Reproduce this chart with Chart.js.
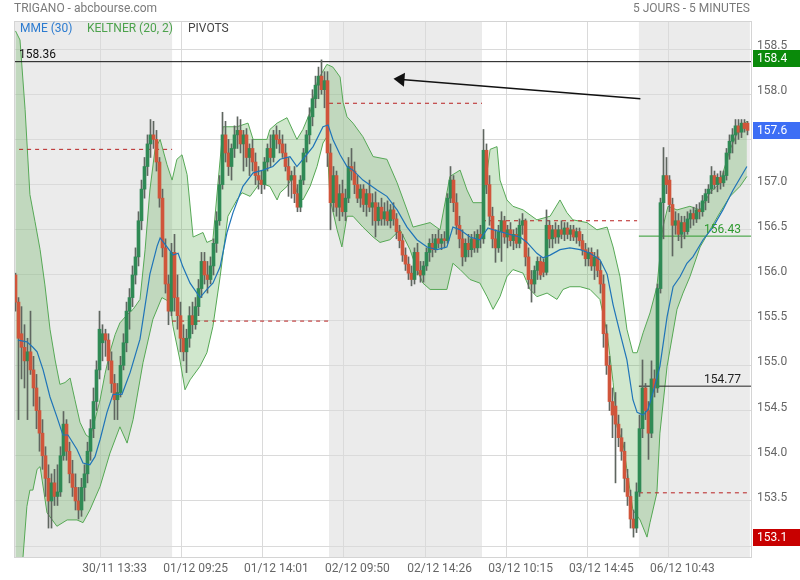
<!DOCTYPE html>
<html lang="fr">
<head>
<meta charset="UTF-8">
<title>TRIGANO - abcbourse.com</title>
<script src="https://cdn.jsdelivr.net/npm/chart.js"></script>
<style>
  body { margin: 0; background: #fff; font-family: Roboto, "Open Sans", sans-serif; }
  .wrap { position: relative; width: 800px; height: 580px; }
  canvas { position: absolute; left: 0; top: 0; }
  .txt { position: absolute; white-space: nowrap; line-height: 16px; }
  .title { left: 14px; top: 0; font-size: 12px; color: #7a7a7a; }
  .period { right: 50px; top: 0; font-size: 12px; color: #7a7a7a; }
  .leg { top: 20px; font-size: 12px; }
</style>
</head>
<body>
<div class="wrap">
  <canvas id="chart" width="800" height="580"></canvas>
  <div class="txt title">TRIGANO - abcbourse.com</div>
  <div class="txt period">5 JOURS - 5 MINUTES</div>
  <div class="txt leg" style="left:20px;color:#2b7bd0">MME (30)</div>
  <div class="txt leg" style="left:87px;color:#4ca24c">KELTNER (20, 2)</div>
  <div class="txt leg" style="left:188px;color:#444">PIVOTS</div>
</div>

<script>
  // bougies (une par pas de l'axe x)
  const opens = [
    156.00,155.70,155.35,155.20,155.05,155.15,154.95,154.75,154.50,154.25,154.00,153.75,153.50,
    153.70,153.55,153.60,154.00,154.35,154.05,153.80,153.65,153.50,153.40,153.65,153.80,154.05,
    154.30,154.60,154.95,155.25,155.35,155.28,155.05,154.80,154.62,154.70,155.00,155.25,155.60,
    155.75,156.00,156.20,156.60,156.95,157.20,157.45,157.55,157.50,157.25,156.85,156.30,155.90,
    155.60,156.25,155.75,155.55,155.30,155.15,155.30,155.55,155.45,155.65,155.85,156.15,156.00,
    155.95,156.10,156.35,156.60,157.00,157.55,157.35,157.20,157.40,157.55,157.60,157.45,157.55,
    157.30,157.40,157.25,157.10,157.05,157.00,157.25,157.40,157.30,157.55,157.50,157.45,157.35,
    157.20,157.05,157.10,156.90,156.75,157.05,157.35,157.55,157.75,157.95,158.10,158.20,158.05,
    158.15,157.35,156.80,157.10,156.75,156.90,156.70,156.85,157.20,157.15,157.00,156.85,156.95,
    156.78,156.90,156.75,156.80,156.60,156.75,156.62,156.70,156.60,156.72,156.62,156.48,156.38,
    156.22,156.12,156.02,155.95,156.25,156.05,156.00,156.10,156.25,156.35,156.28,156.40,156.35,
    156.40,156.38,156.85,157.05,156.80,156.55,156.40,156.20,156.35,156.28,156.40,156.30,156.45,
    156.40,157.38,157.00,156.65,156.40,156.30,156.48,156.60,156.42,156.50,156.38,156.45,156.35,
    156.55,156.60,156.20,155.95,155.90,156.05,156.15,156.14,156.03,156.55,156.40,156.50,156.42,
    156.50,156.45,156.52,156.45,156.50,156.42,156.48,156.38,156.28,156.18,156.25,156.10,156.20,
    156.05,155.90,155.35,155.00,154.60,154.55,154.35,154.20,154.05,153.75,153.55,153.30,153.20,
    153.60,154.30,154.75,154.50,154.25,154.85,154.75,155.85,156.80,157.10,157.05,156.78,156.55,
    156.60,156.45,156.58,156.48,156.62,156.68,156.62,156.72,156.70,156.82,156.90,156.95,157.10,
    157.00,157.08,157.02,157.10,157.35,157.48,157.55,157.65,157.58,157.68,157.68
  ];
  const highs = [
    156.02,155.75,155.65,155.45,155.30,155.60,155.10,154.90,154.65,154.40,154.10,153.90,153.80,
    153.85,153.90,154.10,154.49,154.40,154.15,153.95,153.80,153.65,153.75,153.90,154.15,154.40,
    154.75,155.05,155.60,155.45,155.40,155.35,155.15,154.90,154.80,155.10,155.35,155.70,155.85,
    156.10,156.30,156.70,157.05,157.30,157.55,157.72,157.70,157.60,157.30,156.95,156.40,156.00,
    156.35,156.45,156.00,155.70,155.45,155.40,155.65,155.70,155.75,155.95,156.25,156.25,156.15,
    156.20,156.40,156.70,157.10,157.80,157.70,157.50,157.45,157.65,157.75,157.72,157.60,157.62,
    157.45,157.50,157.35,157.20,157.15,157.30,157.45,157.55,157.60,157.65,157.60,157.55,157.45,
    157.30,157.15,157.20,157.00,157.10,157.40,157.60,157.85,158.05,158.20,158.30,158.38,158.25,
    158.25,157.45,157.20,157.15,157.00,157.05,156.95,157.30,157.40,157.25,157.10,157.00,157.00,
    156.95,157.05,156.90,156.92,156.80,156.85,156.80,156.82,156.78,156.80,156.68,156.55,156.45,
    156.30,156.20,156.10,156.30,156.35,156.15,156.15,156.30,156.40,156.45,156.45,156.50,156.45,
    156.48,156.90,157.20,157.10,156.90,156.65,156.50,156.40,156.45,156.45,156.48,156.50,156.55,
    157.61,157.45,157.10,156.75,156.50,156.55,156.70,156.65,156.55,156.58,156.50,156.52,156.62,
    156.68,156.62,156.30,156.05,156.10,156.20,156.20,156.18,156.72,156.60,156.55,156.58,156.55,
    156.60,156.58,156.58,156.55,156.55,156.52,156.52,156.45,156.35,156.30,156.30,156.25,156.28,
    156.15,156.00,155.45,155.10,154.75,154.70,154.45,154.30,154.15,153.85,153.62,153.40,153.70,
    154.45,155.06,154.80,154.60,155.05,154.95,155.90,156.85,157.41,157.30,157.10,156.85,156.70,
    156.68,156.65,156.65,156.70,156.72,156.75,156.78,156.80,156.88,156.95,157.00,157.20,157.15,
    157.12,157.15,157.15,157.40,157.55,157.62,157.72,157.72,157.72,157.72,157.70
  ];
  const lows = [
    155.60,154.40,154.85,154.75,154.40,154.90,154.55,154.30,154.05,153.85,153.55,153.20,153.20,
    153.45,153.45,153.55,153.95,153.95,153.70,153.55,153.40,153.30,153.33,153.50,153.70,153.95,
    154.20,154.50,154.85,155.05,155.10,154.95,154.70,154.40,154.40,154.65,154.95,155.15,155.40,
    155.65,155.90,156.10,156.50,156.85,157.10,157.30,157.40,157.15,156.75,156.20,155.80,155.45,
    155.55,155.60,155.40,155.15,155.05,154.92,155.20,155.35,155.40,155.55,155.75,155.90,155.80,
    155.90,156.00,156.25,156.55,156.95,157.25,157.10,157.05,157.30,157.40,157.35,157.15,157.20,
    157.10,157.15,157.00,156.95,156.90,156.95,157.15,157.20,157.25,157.40,157.35,157.30,157.15,
    156.87,156.85,156.80,156.70,156.70,157.00,157.25,157.45,157.65,157.85,157.95,158.00,157.85,
    157.20,156.50,156.70,156.65,156.60,156.65,156.60,156.80,157.05,156.90,156.80,156.75,156.70,
    156.65,156.70,156.55,156.42,156.55,156.55,156.55,156.55,156.52,156.55,156.40,156.30,156.15,
    156.05,155.95,155.88,155.90,156.00,155.92,155.92,156.05,156.15,156.20,156.25,156.30,156.28,
    156.30,156.35,156.80,156.70,156.45,156.30,156.10,156.15,156.20,156.20,156.25,156.25,156.30,
    156.35,156.90,156.55,156.30,156.14,156.25,156.15,156.35,156.30,156.32,156.28,156.30,156.30,
    156.45,156.10,155.85,155.70,155.80,155.95,155.95,155.98,156.00,156.30,156.30,156.35,156.35,
    156.40,156.38,156.40,156.38,156.38,156.35,156.32,156.22,156.10,156.10,156.05,155.95,155.98,
    155.80,155.20,154.90,154.50,154.20,153.70,154.10,153.95,153.60,153.45,153.20,153.10,153.15,
    153.55,154.20,154.40,153.96,154.20,154.65,154.70,155.80,156.40,156.90,156.70,156.21,156.45,
    156.38,156.30,156.40,156.45,156.52,156.55,156.58,156.62,156.65,156.72,156.80,156.90,156.95,
    156.92,156.95,156.98,157.05,157.28,157.35,157.45,157.50,157.52,157.58,157.55
  ];
  const closes = [
    155.70,155.30,155.20,155.05,155.15,154.95,154.75,154.50,154.25,154.00,153.75,153.50,153.70,
    153.55,153.60,154.00,154.35,154.05,153.80,153.65,153.50,153.40,153.65,153.80,154.05,154.30,
    154.60,154.95,155.40,155.35,155.28,155.05,154.80,154.62,154.70,155.00,155.25,155.60,155.75,
    156.00,156.20,156.60,156.95,157.20,157.45,157.55,157.50,157.25,156.85,156.30,155.90,155.60,
    156.25,155.75,155.55,155.30,155.15,155.30,155.55,155.45,155.65,155.85,156.15,156.00,155.95,
    156.10,156.35,156.60,157.00,157.55,157.35,157.20,157.40,157.55,157.60,157.45,157.55,157.30,
    157.40,157.25,157.10,157.05,157.00,157.25,157.40,157.30,157.55,157.50,157.45,157.35,157.20,
    157.05,157.10,156.90,156.75,157.05,157.35,157.55,157.75,157.95,158.10,158.20,158.05,158.15,
    157.35,156.80,157.10,156.75,156.90,156.70,156.85,157.20,157.15,157.00,156.85,156.95,156.78,
    156.90,156.75,156.80,156.60,156.75,156.62,156.70,156.60,156.72,156.62,156.48,156.38,156.22,
    156.12,156.02,155.95,156.25,156.05,156.00,156.10,156.25,156.35,156.28,156.40,156.35,156.40,
    156.38,156.85,157.05,156.80,156.55,156.40,156.20,156.35,156.28,156.40,156.30,156.45,156.40,
    157.38,157.00,156.65,156.40,156.30,156.48,156.60,156.42,156.50,156.38,156.45,156.35,156.55,
    156.60,156.20,155.95,155.90,156.05,156.15,156.00,156.03,156.55,156.40,156.50,156.42,156.50,
    156.45,156.52,156.45,156.50,156.42,156.48,156.38,156.28,156.18,156.25,156.10,156.20,156.05,
    155.90,155.35,155.00,154.60,154.45,154.35,154.20,154.05,153.75,153.55,153.30,153.20,153.60,
    154.30,154.75,154.50,154.25,154.85,154.75,155.85,156.80,157.10,157.00,156.78,156.55,156.60,
    156.45,156.58,156.48,156.62,156.68,156.62,156.72,156.70,156.82,156.90,156.95,157.10,157.00,
    157.08,157.02,157.10,157.35,157.48,157.55,157.65,157.58,157.68,157.62,157.60
  ];

  // Keltner (20, 2) : bandes haute et basse (position en bougies)
  const upperIdx = [0,1.5,3.2,4.8,6.5,8.2,9.8,11.5,13.2,14.8,16.5,18.2,19.8,21.5,23.5,24.8,26.5,28.2,29.8,31.5,
    33.2,34.8,37.2,39.2,41.5,43.2,44.8,46.5,48.2,50.5,52.2,53.8,55.5,57.2,59.2,62.5,63.8,65.8,69.2,73.8,
    77.5,79.2,83.8,84.8,87.2,90.5,93.8,95.8,98.2,100.8,103.8,105.8,108.2,109.2,110.5,112.5,115.8,119.2,123.8,127.2,
    130.5,132.5,138.2,141.5,144.8,148.2,150.5,152.5,155.8,158.2,160.5,161.5,163.8,165.8,169.2,173.8,178.2,181.5,183.8,185.8,
    190.5,193.8,197.2,199.2,201.5,203.8,205.8,207.2,209.2,211.5,213.8,215.8,217.5,220.5,224.8,228.2,231.5,234.8,238.2,241.5,243.8];
  const upperVal = [158.70,158.60,157.83,156.89,156.59,156.28,155.89,155.40,155.06,154.79,154.81,154.86,154.62,154.37,154.23,154.20,154.40,154.62,154.90,155.15,
    155.34,155.47,155.56,155.62,155.73,156.28,156.94,157.39,157.50,157.22,157.05,157.28,157.33,157.11,156.42,156.47,156.36,156.39,157.64,157.64,
    157.68,157.50,157.50,157.61,157.68,157.74,157.50,157.61,157.80,158.16,158.33,158.30,158.19,157.91,157.75,157.68,157.53,157.31,157.28,157.02,
    156.72,156.53,156.58,156.50,157.09,157.16,156.94,156.80,156.80,157.39,157.42,157.05,156.83,156.76,156.72,156.61,156.65,156.83,156.69,156.61,
    156.58,156.50,156.53,156.31,155.98,155.40,155.14,155.14,155.36,155.58,155.87,156.53,156.76,156.72,156.76,156.72,156.91,157.02,157.39,157.64,157.70];
  const lowerIdx = [0,1.8,2.5,3.8,4.8,5.8,7.2,8.2,10.5,13.8,17.2,20.5,22.5,24.8,28.2,31.5,34.8,37.2,39.2,42.5,
    45.8,48.8,51.5,52.5,54.8,56.5,58.2,61.5,63.8,65.8,68.2,70.8,73.8,75.5,78.2,81.5,84.8,87.2,88.2,90.5,
    92.5,93.8,95.8,98.2,100.5,102.5,103.8,104.8,107.2,108.8,110.5,112.5,115.8,119.2,121.5,124.8,128.2,131.5,133.8,135.8,
    138.2,143.8,145.8,148.2,151.5,154.8,157.2,159.2,161.5,163.8,165.8,169.2,171.5,173.8,177.2,180.5,182.5,184.8,188.2,191.5,
    194.8,197.2,199.2,200.5,202.5,205.8,208.2,210.5,211.5,213.8,214.8,217.2,220.5,222.5,224.8,228.2,231.5,234.8,238.2,241.5,243.8];
  const lowerVal = [152.30,152.50,152.88,153.44,153.62,153.62,153.85,153.88,153.37,153.22,153.29,153.29,153.26,153.40,153.66,154.03,154.32,154.14,154.40,155.03,
    155.51,155.75,155.70,155.43,155.06,154.73,154.84,154.99,155.14,155.43,155.98,156.65,156.83,156.91,156.87,157.02,156.98,156.83,156.91,156.98,
    157.09,156.91,156.83,156.98,157.20,157.46,157.53,156.85,156.50,156.31,156.65,156.65,156.53,156.42,156.36,156.39,156.50,156.28,156.06,155.91,
    155.84,155.84,156.13,156.06,155.95,155.91,155.76,155.62,155.76,155.98,156.06,156.02,155.84,155.76,155.80,155.73,155.84,155.87,155.87,155.84,
    155.73,155.36,154.81,154.32,154.14,153.40,153.29,153.10,153.26,153.59,154.25,154.99,155.62,155.80,155.98,156.31,156.50,156.69,156.87,156.98,157.09];

  // MME (30)
  const emaIdx = [0.8,3.8,5.8,7.2,9.2,11.5,13.8,15.8,17.5,20.5,22.5,24.8,26.5,28.2,30.5,32.5,35.5,38.2,41.5,44.8,
    47.2,48.2,50.5,52.5,54.2,55.8,58.2,61.5,63.8,65.8,68.2,70.5,72.5,75.8,79.2,82.5,85.8,88.2,91.5,93.8,
    95.8,99.2,102.5,104.2,105.8,108.2,110.5,112.5,115.8,120.5,123.8,127.2,130.5,133.8,137.2,140.5,143.8,145.8,148.2,151.5,
    154.8,157.5,159.2,161.5,165.8,168.2,170.5,173.8,175.8,178.2,181.5,184.8,188.2,191.5,194.8,197.2,199.2,201.5,203.8,205.8,
    207.2,209.2,210.8,212.5,214.8,217.2,219.2,221.5,223.8,225.8,229.2,232.5,235.8,239.2,243.8];
  const emaVal = [155.28,155.26,155.20,155.15,154.95,154.65,154.43,154.23,154.23,154.07,153.92,153.90,153.99,154.18,154.48,154.68,154.68,154.92,155.29,156.01,
    156.32,156.41,156.31,156.22,156.24,156.09,155.91,155.75,155.84,155.91,156.09,156.47,156.69,156.98,157.13,157.16,157.20,157.28,157.31,157.20,
    157.28,157.42,157.64,157.66,157.50,157.33,157.20,157.16,157.05,156.94,156.87,156.72,156.53,156.39,156.31,156.28,156.31,156.53,156.50,156.42,
    156.39,156.52,156.50,156.48,156.44,156.42,156.36,156.24,156.19,156.22,156.28,156.30,156.28,156.24,156.17,156.01,155.67,155.36,155.06,154.62,
    154.48,154.45,154.51,154.70,154.99,155.54,155.87,155.98,156.13,156.20,156.39,156.53,156.72,156.94,157.20];

  // pivots du jour (début, fin, niveau)
  const pivotFrom = [1.2, 52.2, 104.5, 155.5, 207.8];
  const pivotTo = [52.2, 104.5, 155.5, 207.2, 243.8];
  const pivotVal = [157.39, 155.49, 157.90, 156.60, 153.59];

  // niveaux tracés
  const levelVal = [158.36, 156.43, 154.77];
  const levelFrom = [-0.5, 207.8, 207.8];
  const levelColor = ['#111', '#2e9a2e', '#222'];

  // flèche (bougie, cours)
  const arrowFrom = [208.3, 157.95];
  const arrowTo = [126.0, 158.17];

  // étiquettes de l'axe de droite
  const badgeVal = [158.4, 157.6, 153.1];
  const badgeColor = ['#0a8a0a', '#3d6ef5', '#c80000'];

  // jours : limites (en bougies), un jour sur deux grisé
  const dayBreaks = [-0.5, 52.2, 104.5, 155.5, 207.8, 244.8];

  const xTickPos = [28.4, 55.4, 82.3, 109.3, 136.7, 163.7, 190.6, 217.6];
  const xTickLabels = ['30/11 13:33', '01/12 09:25', '01/12 14:01', '02/12 09:50',
                       '02/12 14:26', '03/12 10:15', '03/12 14:45', '06/12 10:43'];
  const yTicks = [153.0, 153.5, 154.0, 154.5, 155.0, 155.5, 156.0, 156.5, 157.0, 157.5, 158.0, 158.5];
  const yMin = 152.88, yMax = 158.81;

  const GREEN = '#2f8a55', RED = '#d0553b', WICK = '#5f6660';

  const wicks = lows.map((l, i) => ({ x: i, y: [l, highs[i]] }));
  const bodies = opens.map((o, i) => ({ x: i, y: [o, closes[i]] }));
  const pts = (xs, ys) => xs.map((x, i) => ({ x: x, y: ys[i] }));

  const pivotPts = [];
  pivotVal.forEach((v, i) => {
    pivotPts.push({ x: pivotFrom[i], y: v }, { x: pivotTo[i], y: v }, { x: pivotTo[i], y: null });
  });

  const lineBase = { type: 'line', pointRadius: 0, borderWidth: 1, tension: 0 };

  const overlay = {
    id: 'overlay',
    beforeDraw(chart) {
      const { ctx, chartArea: a, scales: { x } } = chart;
      ctx.save();
      ctx.fillStyle = '#fff';
      ctx.fillRect(0, 0, chart.width, chart.height);
      ctx.fillStyle = '#ebebeb';
      for (let d = 0; d < dayBreaks.length - 1; d += 2) {
        const x0 = x.getPixelForValue(dayBreaks[d]);
        const x1 = x.getPixelForValue(dayBreaks[d + 1]);
        ctx.fillRect(x0, a.top, x1 - x0, a.bottom - a.top);
      }
      ctx.restore();
    },
    afterDraw(chart) {
      const { ctx, chartArea: a, scales: { x, y } } = chart;
      ctx.save();
      // cadre
      ctx.strokeStyle = '#d4d4d4';
      ctx.lineWidth = 1;
      ctx.strokeRect(a.left + 0.5, a.top + 0.5, a.right - a.left - 1, a.bottom - a.top);

      // textes des niveaux
      ctx.font = '12px Roboto, sans-serif';
      ctx.textBaseline = 'alphabetic';
      ctx.fillStyle = levelColor[0];
      ctx.textAlign = 'left';
      ctx.fillText(levelVal[0].toFixed(2), x.getPixelForValue(1.2), y.getPixelForValue(levelVal[0]) - 4);
      ctx.textAlign = 'right';
      for (let i = 1; i < levelVal.length; i++) {
        ctx.fillStyle = levelColor[i];
        ctx.fillText(levelVal[i].toFixed(2), x.getPixelForValue(241.8), y.getPixelForValue(levelVal[i]) - 3);
      }

      // flèche
      const fx = x.getPixelForValue(arrowFrom[0]), fy = y.getPixelForValue(arrowFrom[1]);
      const tx = x.getPixelForValue(arrowTo[0]), ty = y.getPixelForValue(arrowTo[1]);
      const ang = Math.atan2(ty - fy, tx - fx);
      ctx.strokeStyle = '#111';
      ctx.lineWidth = 1.3;
      ctx.beginPath();
      ctx.moveTo(fx, fy);
      ctx.lineTo(tx - 8 * Math.cos(ang), ty - 8 * Math.sin(ang));
      ctx.stroke();
      ctx.fillStyle = '#111';
      ctx.beginPath();
      ctx.moveTo(tx, ty);
      ctx.lineTo(tx - 11 * Math.cos(ang) + 7 * Math.sin(ang), ty - 11 * Math.sin(ang) - 7 * Math.cos(ang));
      ctx.lineTo(tx - 11 * Math.cos(ang) - 7 * Math.sin(ang), ty - 11 * Math.sin(ang) + 7 * Math.cos(ang));
      ctx.closePath();
      ctx.fill();

      // étiquettes colorées de l'axe
      ctx.textAlign = 'left';
      ctx.textBaseline = 'middle';
      badgeVal.forEach((v, i) => {
        const py = y.getPixelForValue(v);
        ctx.fillStyle = badgeColor[i];
        ctx.fillRect(a.right + 1, Math.round(py) - 8, chart.width - a.right - 1, 17);
        ctx.fillStyle = '#fff';
        ctx.fillText(v.toFixed(1), a.right + 5, py + 1);
      });
      ctx.restore();
    }
  };

  new Chart(document.getElementById('chart'), {
    type: 'bar',
    data: {
      datasets: [
        { ...lineBase, label: 'MME (30)', data: pts(emaIdx, emaVal), borderColor: '#1f74b8', borderWidth: 1.2, order: 0 },
        { type: 'bar', label: 'corps', data: bodies, grouped: false, barThickness: 3, order: 1,
          backgroundColor: ctx => closes[ctx.dataIndex] >= opens[ctx.dataIndex] ? GREEN : RED },
        { type: 'bar', label: 'mèches', data: wicks, grouped: false, barThickness: 1, order: 2, backgroundColor: WICK },
        { ...lineBase, label: 'pivots', data: pivotPts, borderColor: '#b82020', borderDash: [4, 4], spanGaps: false, order: 3 },
        ...levelVal.map((v, i) => ({ ...lineBase, label: 'niveau', order: 3, borderColor: levelColor[i],
          data: [{ x: levelFrom[i], y: v }, { x: 245.5, y: v }] })),
        { ...lineBase, label: 'Keltner haut', data: pts(upperIdx, upperVal), borderColor: '#57a957',
          fill: '+1', backgroundColor: 'rgba(80,165,70,0.27)', order: 4 },
        { ...lineBase, label: 'Keltner bas', data: pts(lowerIdx, lowerVal), borderColor: '#57a957', order: 5 }
      ]
    },
    options: {
      responsive: false,
      animation: false,
      events: [],
      layout: { padding: { left: 14, top: 21, right: 0, bottom: 0 } },
      plugins: { legend: { display: false }, tooltip: { enabled: false } },
      scales: {
        x: {
          type: 'linear', min: -0.5, max: 245.5, offset: false,
          grid: { color: '#dadada', offset: false, drawTicks: false },
          border: { display: false },
          afterBuildTicks: s => { s.ticks = xTickPos.map(v => ({ value: v })); },
          afterFit: s => { s.height = 23; },
          ticks: {
            autoSkip: false, maxRotation: 0, padding: 5, labelOffset: 14,
            color: '#666', font: { family: 'Roboto', size: 12 },
            callback: (v, i) => xTickLabels[i]
          }
        },
        y: {
          position: 'right', min: yMin, max: yMax,
          grid: { color: '#dadada', drawTicks: false },
          border: { display: false },
          afterBuildTicks: s => { s.ticks = yTicks.map(v => ({ value: v })); },
          afterFit: s => { s.width = 48; },
          ticks: {
            padding: 5, labelOffset: -3, color: '#666', font: { family: 'Roboto', size: 12 },
            callback: v => v.toFixed(1)
          }
        }
      }
    },
    plugins: [overlay]
  });
</script>
</body>
</html>
